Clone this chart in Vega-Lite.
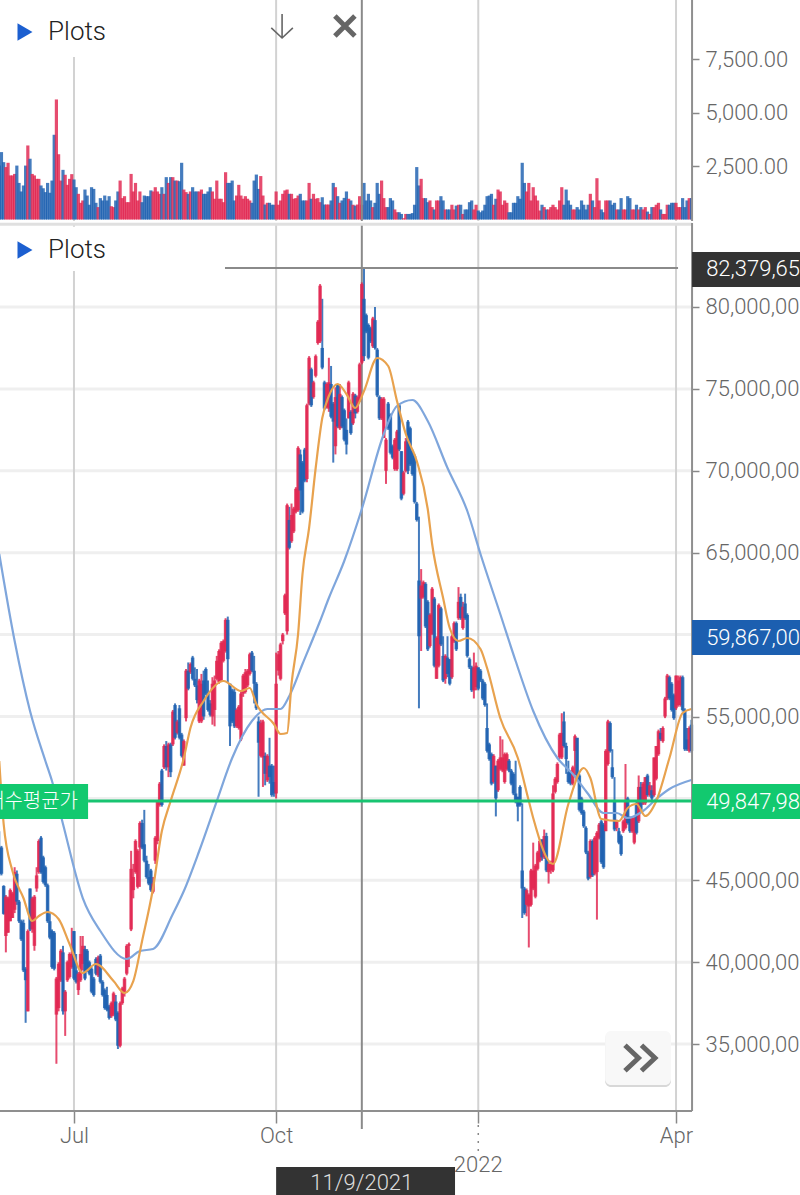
{"$schema":"https://vega.github.io/schema/vega-lite/v6.json","padding":{"left":-6,"top":-2,"right":0,"bottom":0},"background":"white","spacing":0,"config":{"view":{"stroke":null},"font":"Roboto","concat":{"spacing":0}},
"datasets":{
"months":[{"t":"2021-07-01"},{"t":"2021-10-01"},{"t":"2022-01-01"},{"t":"2022-04-01"}],
"levels":[{"p":35000},{"p":40000},{"p":45000},{"p":50000},{"p":55000},{"p":60000},{"p":65000},{"p":70000},{"p":75000},{"p":80000}],
"ma_fast":[{"d":"2021-05-28","m":52283},{"d":"2021-05-30","m":48437},{"d":"2021-06-03","m":45568},{"d":"2021-06-08","m":43919},{"d":"2021-06-12","m":42515},{"d":"2021-06-15","m":42820},{"d":"2021-06-19","m":43065},{"d":"2021-06-24","m":42637},{"d":"2021-06-29","m":41111},{"d":"2021-07-05","m":39341},{"d":"2021-07-11","m":39890},{"d":"2021-07-19","m":38852},{"d":"2021-07-24","m":38120},{"d":"2021-07-28","m":38852},{"d":"2021-08-01","m":41294},{"d":"2021-08-06","m":44530},{"d":"2021-08-10","m":48010},{"d":"2021-08-14","m":49841},{"d":"2021-08-20","m":52466},{"d":"2021-08-23","m":54298},{"d":"2021-08-29","m":55946},{"d":"2021-09-07","m":57167},{"d":"2021-09-15","m":56557},{"d":"2021-09-19","m":56740},{"d":"2021-09-22","m":55763},{"d":"2021-09-30","m":54542},{"d":"2021-10-03","m":53932},{"d":"2021-10-06","m":53993},{"d":"2021-10-08","m":56984},{"d":"2021-10-11","m":60037},{"d":"2021-10-13","m":63700},{"d":"2021-10-16","m":66508},{"d":"2021-10-19","m":70171},{"d":"2021-10-22","m":73223},{"d":"2021-10-25","m":74567},{"d":"2021-10-29","m":75299},{"d":"2021-11-02","m":74689},{"d":"2021-11-06","m":73834},{"d":"2021-11-10","m":74872},{"d":"2021-11-16","m":76886},{"d":"2021-11-21","m":76398},{"d":"2021-11-25","m":74261},{"d":"2021-11-29","m":72247},{"d":"2021-12-04","m":70598},{"d":"2021-12-09","m":67668},{"d":"2021-12-11","m":65531},{"d":"2021-12-16","m":62234},{"d":"2021-12-19","m":60403},{"d":"2021-12-23","m":59609},{"d":"2021-12-27","m":59792},{"d":"2022-01-02","m":59121},{"d":"2022-01-05","m":57961},{"d":"2022-01-11","m":54908},{"d":"2022-01-19","m":52466},{"d":"2022-01-24","m":49841},{"d":"2022-01-26","m":48803},{"d":"2022-02-04","m":45995},{"d":"2022-02-11","m":49658},{"d":"2022-02-18","m":51856},{"d":"2022-02-21","m":51245},{"d":"2022-02-26","m":48742},{"d":"2022-03-06","m":48620},{"d":"2022-03-10","m":49414},{"d":"2022-03-14","m":49658},{"d":"2022-03-18","m":48926},{"d":"2022-03-23","m":49841},{"d":"2022-03-29","m":52466},{"d":"2022-04-04","m":55214},{"d":"2022-04-08","m":55458}],
"ma_slow":[{"d":"2021-05-28","m":64921},{"d":"2021-06-04","m":59609},{"d":"2021-06-11","m":55336},{"d":"2021-06-18","m":52283},{"d":"2021-06-21","m":51062},{"d":"2021-06-26","m":48437},{"d":"2021-07-05","m":43919},{"d":"2021-07-13","m":41905},{"d":"2021-07-25","m":40195},{"d":"2021-07-31","m":40684},{"d":"2021-08-06","m":40806},{"d":"2021-08-15","m":42943},{"d":"2021-08-20","m":44347},{"d":"2021-08-27","m":46789},{"d":"2021-09-04","m":49841},{"d":"2021-09-11","m":52466},{"d":"2021-09-20","m":54725},{"d":"2021-09-27","m":55458},{"d":"2021-10-03","m":55458},{"d":"2021-10-07","m":56252},{"d":"2021-10-13","m":58205},{"d":"2021-10-21","m":60830},{"d":"2021-10-25","m":62234},{"d":"2021-11-01","m":64493},{"d":"2021-11-09","m":67668},{"d":"2021-11-19","m":72247},{"d":"2021-11-25","m":73956},{"d":"2021-12-02","m":74322},{"d":"2021-12-09","m":73040},{"d":"2021-12-18","m":70171},{"d":"2021-12-27","m":67546},{"d":"2022-01-02","m":64921},{"d":"2022-01-11","m":61258},{"d":"2022-01-18","m":58388},{"d":"2022-01-26","m":55336},{"d":"2022-02-06","m":52466},{"d":"2022-02-13","m":51490},{"d":"2022-02-20","m":50269},{"d":"2022-02-27","m":49109},{"d":"2022-03-05","m":49109},{"d":"2022-03-10","m":48803},{"d":"2022-03-17","m":49231},{"d":"2022-03-23","m":49963},{"d":"2022-03-29","m":50574},{"d":"2022-04-08","m":51123}],
"bars":[
{"d":"2021-05-28","o":47000,"h":48000,"l":45300,"c":45400,"v":2520},{"d":"2021-05-29","o":47000,"h":47100,"l":45300,"c":45400,"v":3150},{"d":"2021-05-30","o":44650,"h":44700,"l":42900,"c":42950,"v":2680},{"d":"2021-05-31","o":41600,"h":44100,"l":40600,"c":44000,"v":2450},
{"d":"2021-06-01","o":41800,"h":44000,"l":41800,"c":43900,"v":2650},{"d":"2021-06-02","o":42500,"h":44500,"l":42500,"c":44400,"v":2060},{"d":"2021-06-03","o":42700,"h":44300,"l":42700,"c":44200,"v":2060},{"d":"2021-06-04","o":43200,"h":45800,"l":43000,"c":45500,"v":2130},{"d":"2021-06-05","o":45400,"h":45600,"l":43500,"c":43700,"v":2520},{"d":"2021-06-06","o":43700,"h":43800,"l":42400,"c":42500,"v":1710},{"d":"2021-06-07","o":42500,"h":42600,"l":41300,"c":41400,"v":1310},{"d":"2021-06-08","o":42400,"h":42600,"l":39400,"c":39500,"v":1590},{"d":"2021-06-09","o":39600,"h":39700,"l":36300,"c":38900,"v":2520},{"d":"2021-06-10","o":37000,"h":42000,"l":37000,"c":41900,"v":3460},
{"d":"2021-06-11","o":44500,"h":44500,"l":41900,"c":42000,"v":2840},{"d":"2021-06-12","o":42000,"h":44000,"l":41800,"c":43900,"v":2130},{"d":"2021-06-13","o":41000,"h":44100,"l":40700,"c":44000,"v":2060},{"d":"2021-06-14","o":44500,"h":45800,"l":44300,"c":45300,"v":1900},{"d":"2021-06-15","o":45500,"h":47500,"l":45400,"c":47400,"v":1900},{"d":"2021-06-16","o":47600,"h":47700,"l":45400,"c":45500,"v":1590},{"d":"2021-06-17","o":46400,"h":46500,"l":44800,"c":44900,"v":1460},{"d":"2021-06-18","o":45800,"h":45900,"l":44600,"c":44700,"v":1280},{"d":"2021-06-19","o":44700,"h":44800,"l":42400,"c":42500,"v":1710},{"d":"2021-06-20","o":42500,"h":43000,"l":41400,"c":41500,"v":1250},
{"d":"2021-06-21","o":41900,"h":42000,"l":39600,"c":39700,"v":1820},{"d":"2021-06-22","o":41800,"h":41900,"l":39500,"c":39600,"v":3960},{"d":"2021-06-23","o":36800,"h":39100,"l":33800,"c":39000,"v":5610},{"d":"2021-06-24","o":37200,"h":40000,"l":37000,"c":39900,"v":3050},{"d":"2021-06-25","o":38900,"h":40800,"l":38800,"c":40700,"v":1820},{"d":"2021-06-26","o":40600,"h":41000,"l":36800,"c":37000,"v":2320},{"d":"2021-06-27","o":37000,"h":38300,"l":35500,"c":38200,"v":2090},{"d":"2021-06-28","o":38900,"h":40100,"l":38800,"c":40000,"v":1620},{"d":"2021-06-29","o":39100,"h":40600,"l":39000,"c":40500,"v":1900},{"d":"2021-06-30","o":39700,"h":42100,"l":39600,"c":40500,"v":2120},
{"d":"2021-07-01","o":41900,"h":41900,"l":38900,"c":39000,"v":1870},{"d":"2021-07-02","o":39500,"h":40500,"l":38700,"c":38800,"v":1510},{"d":"2021-07-03","o":38300,"h":39400,"l":38000,"c":39300,"v":1200},{"d":"2021-07-04","o":38900,"h":41600,"l":38800,"c":40500,"v":780},{"d":"2021-07-05","o":39900,"h":41600,"l":39500,"c":41000,"v":890},{"d":"2021-07-06","o":40800,"h":41000,"l":38900,"c":39000,"v":1400},{"d":"2021-07-07","o":40700,"h":40800,"l":39400,"c":39500,"v":1120},{"d":"2021-07-08","o":40000,"h":40100,"l":39200,"c":39300,"v":690},{"d":"2021-07-09","o":39600,"h":39700,"l":38100,"c":38200,"v":1510},{"d":"2021-07-10","o":39000,"h":39100,"l":37900,"c":38000,"v":1430},
{"d":"2021-07-11","o":40200,"h":40300,"l":39200,"c":39300,"v":780},{"d":"2021-07-12","o":39200,"h":40400,"l":39100,"c":40300,"v":580},{"d":"2021-07-13","o":40400,"h":40500,"l":38700,"c":38800,"v":1000},{"d":"2021-07-14","o":38800,"h":38900,"l":37900,"c":38000,"v":890},{"d":"2021-07-15","o":38300,"h":38400,"l":37100,"c":37200,"v":1120},{"d":"2021-07-16","o":38000,"h":38500,"l":37000,"c":37100,"v":890},{"d":"2021-07-17","o":37300,"h":37400,"l":36500,"c":36600,"v":1090},{"d":"2021-07-18","o":36700,"h":37600,"l":36600,"c":37500,"v":620},{"d":"2021-07-19","o":36800,"h":38200,"l":36700,"c":38100,"v":580},{"d":"2021-07-20","o":37600,"h":38000,"l":36400,"c":36500,"v":890},
{"d":"2021-07-21","o":36900,"h":37000,"l":34700,"c":34900,"v":1310},{"d":"2021-07-22","o":34900,"h":37600,"l":34800,"c":37500,"v":1820},{"d":"2021-07-23","o":37500,"h":38500,"l":37400,"c":38400,"v":1000},{"d":"2021-07-24","o":38100,"h":39100,"l":37900,"c":39000,"v":1090},{"d":"2021-07-25","o":39300,"h":41100,"l":39200,"c":41000,"v":810},{"d":"2021-07-26","o":41000,"h":41200,"l":39700,"c":41100,"v":810},{"d":"2021-07-27","o":42000,"h":46800,"l":41900,"c":45700,"v":2130},{"d":"2021-07-28","o":44400,"h":46000,"l":43900,"c":45200,"v":1310},{"d":"2021-07-29","o":45500,"h":47500,"l":45400,"c":47400,"v":1710},{"d":"2021-07-30","o":44600,"h":46900,"l":44500,"c":46800,"v":890},{"d":"2021-07-31","o":47000,"h":48600,"l":44600,"c":48500,"v":1310},
{"d":"2021-08-01","o":48500,"h":48700,"l":46900,"c":47000,"v":810},{"d":"2021-08-02","o":47200,"h":49300,"l":46100,"c":46200,"v":1120},{"d":"2021-08-03","o":46200,"h":46500,"l":45100,"c":45200,"v":1090},{"d":"2021-08-04","o":45200,"h":46000,"l":44700,"c":44800,"v":1090},{"d":"2021-08-05","o":45600,"h":45700,"l":44300,"c":44400,"v":1360},{"d":"2021-08-06","o":44300,"h":45200,"l":44200,"c":44800,"v":1310},{"d":"2021-08-07","o":46200,"h":47700,"l":46000,"c":47600,"v":1510},{"d":"2021-08-08","o":47400,"h":49900,"l":47200,"c":49800,"v":1310},{"d":"2021-08-09","o":49600,"h":51000,"l":49500,"c":50900,"v":1200},{"d":"2021-08-10","o":51700,"h":51800,"l":49500,"c":49600,"v":1510},
{"d":"2021-08-11","o":51900,"h":53300,"l":51800,"c":53200,"v":1200},{"d":"2021-08-12","o":53200,"h":53500,"l":51700,"c":51900,"v":1980},{"d":"2021-08-13","o":51900,"h":53400,"l":51300,"c":53300,"v":1710},{"d":"2021-08-14","o":53300,"h":53400,"l":51300,"c":51600,"v":1980},{"d":"2021-08-15","o":53300,"h":55400,"l":53200,"c":55300,"v":1980},{"d":"2021-08-16","o":55700,"h":55800,"l":53600,"c":53700,"v":1820},{"d":"2021-08-17","o":54000,"h":54800,"l":53900,"c":54700,"v":1820},{"d":"2021-08-18","o":55500,"h":55700,"l":53600,"c":53700,"v":1790},{"d":"2021-08-19","o":53900,"h":54000,"l":52500,"c":52600,"v":2650},{"d":"2021-08-20","o":52000,"h":53600,"l":52000,"c":53500,"v":1400},
{"d":"2021-08-21","o":54900,"h":57900,"l":54700,"c":57800,"v":1280},{"d":"2021-08-22","o":57800,"h":58300,"l":56600,"c":56700,"v":1200},{"d":"2021-08-23","o":57700,"h":58300,"l":57600,"c":58200,"v":1310},{"d":"2021-08-24","o":58600,"h":58700,"l":57200,"c":57300,"v":1510},{"d":"2021-08-25","o":57300,"h":58000,"l":56800,"c":56900,"v":1310},{"d":"2021-08-26","o":56900,"h":57900,"l":55800,"c":56000,"v":1310},{"d":"2021-08-27","o":54700,"h":57300,"l":54600,"c":57200,"v":1310},{"d":"2021-08-28","o":54700,"h":57600,"l":54600,"c":57000,"v":1400},{"d":"2021-08-29","o":57200,"h":57800,"l":54800,"c":55000,"v":1200},{"d":"2021-08-30","o":57900,"h":58000,"l":56300,"c":56400,"v":1200},{"d":"2021-08-31","o":56400,"h":57200,"l":55300,"c":55400,"v":1310},
{"d":"2021-09-01","o":55800,"h":56000,"l":55000,"c":55100,"v":1510},{"d":"2021-09-02","o":55000,"h":57400,"l":54500,"c":57000,"v":1310},{"d":"2021-09-03","o":55400,"h":57500,"l":54400,"c":57200,"v":970},{"d":"2021-09-04","o":57300,"h":58700,"l":57200,"c":58400,"v":1820},{"d":"2021-09-05","o":57100,"h":59100,"l":57000,"c":59000,"v":970},{"d":"2021-09-06","o":57200,"h":59600,"l":57100,"c":59500,"v":970},{"d":"2021-09-07","o":58400,"h":59700,"l":58300,"c":59600,"v":810},{"d":"2021-09-08","o":59000,"h":61000,"l":58900,"c":60900,"v":2210},{"d":"2021-09-09","o":60900,"h":61100,"l":57100,"c":58500,"v":1710},{"d":"2021-09-10","o":57000,"h":57000,"l":53200,"c":54400,"v":1710},
{"d":"2021-09-11","o":56600,"h":56700,"l":54600,"c":54700,"v":1820},{"d":"2021-09-12","o":56500,"h":56700,"l":54300,"c":54400,"v":890},{"d":"2021-09-13","o":54400,"h":55500,"l":54300,"c":55400,"v":1120},{"d":"2021-09-14","o":54300,"h":55700,"l":54200,"c":55600,"v":1620},{"d":"2021-09-15","o":53600,"h":56500,"l":53500,"c":56400,"v":1120},{"d":"2021-09-16","o":56400,"h":57600,"l":56200,"c":57500,"v":970},{"d":"2021-09-17","o":56500,"h":57900,"l":56400,"c":57700,"v":1090},{"d":"2021-09-18","o":56900,"h":57900,"l":56800,"c":57800,"v":970},{"d":"2021-09-19","o":57600,"h":58900,"l":57500,"c":58800,"v":890},{"d":"2021-09-20","o":58900,"h":59000,"l":57700,"c":57800,"v":780},
{"d":"2021-09-21","o":57800,"h":58700,"l":55800,"c":57000,"v":1820},{"d":"2021-09-22","o":57000,"h":57100,"l":55400,"c":55500,"v":2100},{"d":"2021-09-23","o":54700,"h":55000,"l":50100,"c":53400,"v":1430},{"d":"2021-09-24","o":52600,"h":54800,"l":52500,"c":54600,"v":2030},{"d":"2021-09-25","o":52500,"h":54800,"l":50700,"c":54700,"v":1120},{"d":"2021-09-26","o":52600,"h":52800,"l":50800,"c":51500,"v":700},{"d":"2021-09-27","o":51100,"h":52700,"l":51000,"c":52600,"v":780},{"d":"2021-09-28","o":52000,"h":53700,"l":50900,"c":51300,"v":780},{"d":"2021-09-29","o":52000,"h":52100,"l":50100,"c":50200,"v":690},{"d":"2021-09-30","o":51000,"h":52000,"l":50100,"c":50300,"v":690},
{"d":"2021-10-01","o":50300,"h":58900,"l":50000,"c":57000,"v":1310},{"d":"2021-10-02","o":57800,"h":59000,"l":57500,"c":58800,"v":690},{"d":"2021-10-03","o":57300,"h":59500,"l":57200,"c":59400,"v":890},{"d":"2021-10-04","o":59600,"h":60100,"l":59400,"c":60000,"v":1200},{"d":"2021-10-05","o":61300,"h":62500,"l":61200,"c":62400,"v":1360},{"d":"2021-10-06","o":60200,"h":68000,"l":60000,"c":67900,"v":1400},{"d":"2021-10-07","o":67000,"h":67800,"l":65200,"c":65300,"v":1200},{"d":"2021-10-08","o":65700,"h":68000,"l":65600,"c":67300,"v":1200},{"d":"2021-10-09","o":66300,"h":67800,"l":66200,"c":67700,"v":970},{"d":"2021-10-10","o":67500,"h":69000,"l":67400,"c":68900,"v":1000},
{"d":"2021-10-11","o":67600,"h":71500,"l":67500,"c":71400,"v":1120},{"d":"2021-10-12","o":71000,"h":71300,"l":67300,"c":68800,"v":1200},{"d":"2021-10-13","o":70500,"h":70600,"l":67400,"c":67500,"v":890},{"d":"2021-10-14","o":71300,"h":71400,"l":69300,"c":69400,"v":890},{"d":"2021-10-15","o":69500,"h":74100,"l":69300,"c":74000,"v":890},{"d":"2021-10-16","o":74100,"h":77000,"l":74000,"c":76900,"v":1710},{"d":"2021-10-17","o":76200,"h":76300,"l":73900,"c":74000,"v":970},{"d":"2021-10-18","o":74500,"h":75500,"l":74400,"c":75400,"v":1200},{"d":"2021-10-19","o":75800,"h":77100,"l":75700,"c":77000,"v":970},{"d":"2021-10-20","o":77800,"h":79200,"l":77700,"c":79100,"v":1000},
{"d":"2021-10-21","o":77900,"h":81400,"l":77800,"c":81300,"v":810},{"d":"2021-10-22","o":77500,"h":80500,"l":76200,"c":76300,"v":1040},{"d":"2021-10-23","o":75400,"h":75500,"l":73700,"c":73800,"v":700},{"d":"2021-10-24","o":73900,"h":75400,"l":73800,"c":75300,"v":700},{"d":"2021-10-25","o":73800,"h":76900,"l":73600,"c":75400,"v":700},{"d":"2021-10-26","o":75300,"h":76400,"l":73200,"c":73300,"v":890},{"d":"2021-10-27","o":74100,"h":74200,"l":70500,"c":73000,"v":1710},{"d":"2021-10-28","o":71500,"h":75100,"l":71000,"c":74500,"v":1510},{"d":"2021-10-29","o":75300,"h":75300,"l":72600,"c":72700,"v":1090},{"d":"2021-10-30","o":72600,"h":75300,"l":72500,"c":74700,"v":780},{"d":"2021-10-31","o":74500,"h":74600,"l":72600,"c":72700,"v":890},
{"d":"2021-11-01","o":73700,"h":73800,"l":71800,"c":71900,"v":1010},{"d":"2021-11-02","o":72500,"h":73200,"l":71000,"c":71600,"v":1310},{"d":"2021-11-03","o":73200,"h":75500,"l":73200,"c":75400,"v":970},{"d":"2021-11-04","o":73600,"h":73700,"l":72200,"c":72300,"v":890},{"d":"2021-11-05","o":72900,"h":74800,"l":72800,"c":74700,"v":690},{"d":"2021-11-06","o":74600,"h":74700,"l":73200,"c":73500,"v":650},{"d":"2021-11-07","o":73600,"h":74600,"l":73500,"c":74500,"v":700},{"d":"2021-11-08","o":74300,"h":76600,"l":74200,"c":76500,"v":1090},{"d":"2021-11-09","o":76600,"h":81500,"l":76500,"c":81400,"v":690},{"d":"2021-11-10","o":80500,"h":82380,"l":76700,"c":77000,"v":1710},
{"d":"2021-11-11","o":79500,"h":79600,"l":78400,"c":78500,"v":890},{"d":"2021-11-12","o":78900,"h":79000,"l":76800,"c":76900,"v":1200},{"d":"2021-11-13","o":78700,"h":78800,"l":77800,"c":77900,"v":890},{"d":"2021-11-14","o":77600,"h":79400,"l":77500,"c":79300,"v":580},{"d":"2021-11-15","o":79200,"h":80000,"l":77400,"c":77500,"v":780},{"d":"2021-11-16","o":77400,"h":77500,"l":74500,"c":74600,"v":1710},{"d":"2021-11-17","o":74500,"h":74600,"l":73100,"c":73200,"v":1200},{"d":"2021-11-18","o":73200,"h":74500,"l":73100,"c":74400,"v":1820},{"d":"2021-11-19","o":72000,"h":74500,"l":72000,"c":74400,"v":1000},{"d":"2021-11-20","o":70000,"h":72000,"l":69200,"c":71900,"v":580},
{"d":"2021-11-21","o":74100,"h":74200,"l":72500,"c":72600,"v":580},{"d":"2021-11-22","o":73400,"h":73500,"l":71000,"c":71100,"v":1000},{"d":"2021-11-23","o":71500,"h":71600,"l":70700,"c":70800,"v":890},{"d":"2021-11-24","o":70100,"h":72000,"l":70000,"c":71900,"v":470},{"d":"2021-11-25","o":70100,"h":72500,"l":70000,"c":72400,"v":340},{"d":"2021-11-26","o":74000,"h":74100,"l":71200,"c":71300,"v":340},{"d":"2021-11-27","o":71200,"h":71200,"l":68200,"c":68300,"v":260},{"d":"2021-11-28","o":68600,"h":70000,"l":68500,"c":69900,"v":60},{"d":"2021-11-29","o":70000,"h":72000,"l":69900,"c":71800,"v":260},{"d":"2021-11-30","o":73000,"h":73100,"l":69800,"c":70000,"v":260},
{"d":"2021-12-01","o":72600,"h":72700,"l":70300,"c":70400,"v":260},{"d":"2021-12-02","o":71200,"h":71300,"l":69700,"c":69800,"v":300},{"d":"2021-12-03","o":70900,"h":71000,"l":68000,"c":68100,"v":690},{"d":"2021-12-04","o":68000,"h":68100,"l":66900,"c":67000,"v":2450},{"d":"2021-12-05","o":63300,"h":67200,"l":55500,"c":59900,"v":1590},{"d":"2021-12-06","o":62200,"h":64000,"l":59000,"c":63000,"v":1900},{"d":"2021-12-07","o":62300,"h":63300,"l":62200,"c":63200,"v":1000},{"d":"2021-12-08","o":63100,"h":63200,"l":60400,"c":60500,"v":1000},{"d":"2021-12-09","o":62000,"h":62100,"l":59000,"c":59100,"v":810},{"d":"2021-12-10","o":59300,"h":61300,"l":59200,"c":61200,"v":890},
{"d":"2021-12-11","o":60000,"h":62900,"l":60000,"c":62800,"v":580},{"d":"2021-12-12","o":62200,"h":62300,"l":58000,"c":58100,"v":470},{"d":"2021-12-13","o":57300,"h":59900,"l":57300,"c":59800,"v":890},{"d":"2021-12-14","o":58100,"h":61900,"l":58000,"c":61800,"v":890},{"d":"2021-12-15","o":61600,"h":61700,"l":59300,"c":59400,"v":1090},{"d":"2021-12-16","o":58700,"h":59900,"l":57100,"c":57200,"v":890},{"d":"2021-12-17","o":57300,"h":58800,"l":57000,"c":58700,"v":470},{"d":"2021-12-18","o":58600,"h":59900,"l":57400,"c":57600,"v":470},{"d":"2021-12-19","o":58500,"h":58500,"l":56900,"c":57000,"v":470},{"d":"2021-12-20","o":57400,"h":60000,"l":57300,"c":59900,"v":690},
{"d":"2021-12-21","o":59600,"h":60800,"l":59500,"c":60700,"v":470},{"d":"2021-12-22","o":60700,"h":60800,"l":59000,"c":59100,"v":650},{"d":"2021-12-23","o":61000,"h":62900,"l":60900,"c":62000,"v":690},{"d":"2021-12-24","o":62300,"h":62500,"l":60900,"c":61000,"v":690},{"d":"2021-12-25","o":60400,"h":62000,"l":60300,"c":61700,"v":260},{"d":"2021-12-26","o":61900,"h":62500,"l":60900,"c":61000,"v":470},{"d":"2021-12-27","o":61200,"h":61300,"l":58600,"c":58700,"v":470},{"d":"2021-12-28","o":58500,"h":58600,"l":57900,"c":58000,"v":810},{"d":"2021-12-29","o":58000,"h":58100,"l":56500,"c":56600,"v":890},{"d":"2021-12-30","o":56600,"h":58900,"l":56100,"c":58000,"v":470},{"d":"2021-12-31","o":56800,"h":58300,"l":56600,"c":58100,"v":690},
{"d":"2022-01-01","o":58000,"h":58000,"l":56600,"c":56700,"v":420},{"d":"2022-01-02","o":57800,"h":57900,"l":57100,"c":57200,"v":340},{"d":"2022-01-03","o":57200,"h":57300,"l":56000,"c":56100,"v":420},{"d":"2022-01-04","o":57000,"h":57100,"l":55600,"c":55700,"v":690},{"d":"2022-01-05","o":54300,"h":55800,"l":52800,"c":52900,"v":1090},{"d":"2022-01-06","o":53300,"h":53400,"l":52300,"c":52400,"v":1120},{"d":"2022-01-07","o":52700,"h":52800,"l":50800,"c":50900,"v":1200},{"d":"2022-01-08","o":51000,"h":52700,"l":50900,"c":52600,"v":690},{"d":"2022-01-09","o":52000,"h":52000,"l":48900,"c":50000,"v":970},{"d":"2022-01-10","o":50500,"h":52400,"l":50400,"c":52300,"v":1400},
{"d":"2022-01-11","o":51800,"h":53800,"l":51700,"c":52500,"v":1310},{"d":"2022-01-12","o":51700,"h":53600,"l":51600,"c":52500,"v":690},{"d":"2022-01-13","o":51000,"h":52800,"l":50900,"c":52700,"v":890},{"d":"2022-01-14","o":51800,"h":52800,"l":51700,"c":52700,"v":780},{"d":"2022-01-15","o":52300,"h":52400,"l":51600,"c":51700,"v":340},{"d":"2022-01-16","o":51700,"h":51800,"l":50800,"c":50900,"v":340},{"d":"2022-01-17","o":51500,"h":51600,"l":50200,"c":50300,"v":780},{"d":"2022-01-18","o":50300,"h":52300,"l":49700,"c":49800,"v":780},{"d":"2022-01-19","o":50100,"h":50100,"l":48600,"c":49500,"v":1090},{"d":"2022-01-20","o":50700,"h":50800,"l":49500,"c":49600,"v":970},
{"d":"2022-01-21","o":45600,"h":49700,"l":42700,"c":44500,"v":2650},{"d":"2022-01-22","o":44500,"h":44600,"l":42900,"c":43000,"v":1710},{"d":"2022-01-23","o":43500,"h":44500,"l":42800,"c":44400,"v":1310},{"d":"2022-01-24","o":43400,"h":44200,"l":40900,"c":44100,"v":1710},{"d":"2022-01-25","o":43500,"h":45700,"l":43400,"c":45600,"v":890},{"d":"2022-01-26","o":44500,"h":47300,"l":44400,"c":45600,"v":1510},{"d":"2022-01-27","o":44000,"h":46000,"l":43900,"c":45900,"v":1120},{"d":"2022-01-28","o":45700,"h":46800,"l":45600,"c":46700,"v":890},{"d":"2022-01-29","o":46200,"h":47500,"l":46100,"c":47400,"v":420},{"d":"2022-01-30","o":47500,"h":47500,"l":46200,"c":46400,"v":690},{"d":"2022-01-31","o":46400,"h":48100,"l":46300,"c":47700,"v":580},
{"d":"2022-02-01","o":47700,"h":47900,"l":45500,"c":45600,"v":470},{"d":"2022-02-02","o":45500,"h":46200,"l":44800,"c":46000,"v":470},{"d":"2022-02-03","o":45600,"h":46200,"l":45400,"c":46000,"v":580},{"d":"2022-02-04","o":45600,"h":50800,"l":45500,"c":50300,"v":690},{"d":"2022-02-05","o":50400,"h":51300,"l":50300,"c":51200,"v":580},{"d":"2022-02-06","o":51000,"h":52200,"l":50900,"c":52100,"v":470},{"d":"2022-02-07","o":52500,"h":54000,"l":52400,"c":53900,"v":890},{"d":"2022-02-08","o":52500,"h":55200,"l":52400,"c":54000,"v":1510},{"d":"2022-02-09","o":54700,"h":55300,"l":53100,"c":53200,"v":690},{"d":"2022-02-10","o":53200,"h":53400,"l":51500,"c":52400,"v":1400},
{"d":"2022-02-11","o":51600,"h":52300,"l":50900,"c":51000,"v":890},{"d":"2022-02-12","o":51600,"h":51700,"l":50800,"c":50900,"v":690},{"d":"2022-02-13","o":50900,"h":52000,"l":50800,"c":51900,"v":470},{"d":"2022-02-14","o":52900,"h":53900,"l":51400,"c":53800,"v":470},{"d":"2022-02-15","o":53700,"h":53700,"l":51300,"c":51400,"v":580},{"d":"2022-02-16","o":51400,"h":51500,"l":49200,"c":49300,"v":470},{"d":"2022-02-17","o":50000,"h":50100,"l":49000,"c":49100,"v":890},{"d":"2022-02-18","o":49200,"h":49300,"l":48200,"c":48300,"v":690},{"d":"2022-02-19","o":48200,"h":48300,"l":46600,"c":46700,"v":470},{"d":"2022-02-20","o":46700,"h":46800,"l":45000,"c":45100,"v":690},
{"d":"2022-02-21","o":45200,"h":47500,"l":45100,"c":47400,"v":1200},{"d":"2022-02-22","o":47400,"h":47500,"l":45200,"c":45300,"v":890},{"d":"2022-02-23","o":45400,"h":47700,"l":45300,"c":47600,"v":580},{"d":"2022-02-24","o":45500,"h":48000,"l":42600,"c":47900,"v":1930},{"d":"2022-02-25","o":47600,"h":48500,"l":47500,"c":48400,"v":890},{"d":"2022-02-26","o":48600,"h":48700,"l":46000,"c":46100,"v":470},{"d":"2022-02-27","o":48400,"h":48500,"l":45700,"c":45800,"v":340},{"d":"2022-02-28","o":48000,"h":53000,"l":48000,"c":52900,"v":890},
{"d":"2022-03-01","o":52100,"h":54800,"l":52000,"c":54700,"v":890},{"d":"2022-03-02","o":54600,"h":54700,"l":52800,"c":52900,"v":890},{"d":"2022-03-03","o":51900,"h":53000,"l":51200,"c":51300,"v":690},{"d":"2022-03-04","o":49800,"h":51300,"l":48000,"c":48100,"v":780},{"d":"2022-03-05","o":48200,"h":48700,"l":48000,"c":48600,"v":470},{"d":"2022-03-06","o":48000,"h":48200,"l":47200,"c":47300,"v":470},{"d":"2022-03-07","o":47700,"h":47800,"l":46500,"c":46600,"v":1000},{"d":"2022-03-08","o":48000,"h":48700,"l":47900,"c":48600,"v":470},{"d":"2022-03-09","o":48200,"h":52100,"l":48100,"c":49800,"v":470},{"d":"2022-03-10","o":50000,"h":50100,"l":48400,"c":48500,"v":1090},
{"d":"2022-03-11","o":48800,"h":48900,"l":47900,"c":48000,"v":1000},{"d":"2022-03-12","o":48000,"h":48900,"l":47900,"c":48800,"v":470},{"d":"2022-03-13","o":47300,"h":48900,"l":47200,"c":48800,"v":470},{"d":"2022-03-14","o":49700,"h":49800,"l":47800,"c":47900,"v":690},{"d":"2022-03-15","o":48600,"h":51400,"l":48500,"c":50700,"v":470},{"d":"2022-03-16","o":50700,"h":51000,"l":49200,"c":49300,"v":580},{"d":"2022-03-17","o":49700,"h":51000,"l":49600,"c":50900,"v":470},{"d":"2022-03-18","o":49700,"h":51300,"l":49600,"c":51300,"v":580},{"d":"2022-03-19","o":51400,"h":51500,"l":50100,"c":50200,"v":370},{"d":"2022-03-20","o":50200,"h":51000,"l":50100,"c":50800,"v":260},
{"d":"2022-03-21","o":50500,"h":50800,"l":49900,"c":50000,"v":580},{"d":"2022-03-22","o":50200,"h":52500,"l":50100,"c":52500,"v":580},{"d":"2022-03-23","o":51200,"h":53200,"l":51100,"c":53200,"v":690},{"d":"2022-03-24","o":52700,"h":54200,"l":52600,"c":54100,"v":780},{"d":"2022-03-25","o":54000,"h":54300,"l":53500,"c":53600,"v":470},{"d":"2022-03-26","o":53500,"h":54400,"l":53400,"c":54300,"v":260},{"d":"2022-03-27","o":55000,"h":56200,"l":54900,"c":56100,"v":260},{"d":"2022-03-28","o":56100,"h":57600,"l":56000,"c":57500,"v":690},{"d":"2022-03-29","o":57400,"h":57500,"l":56000,"c":56100,"v":690},{"d":"2022-03-30","o":57000,"h":57100,"l":55300,"c":55400,"v":780},{"d":"2022-03-31","o":56300,"h":56400,"l":54800,"c":54900,"v":780},
{"d":"2022-04-01","o":55500,"h":57500,"l":55400,"c":57500,"v":780},{"d":"2022-04-02","o":55700,"h":57500,"l":55600,"c":57200,"v":580},{"d":"2022-04-03","o":55700,"h":57500,"l":55600,"c":57400,"v":580},{"d":"2022-04-04","o":57400,"h":57500,"l":55300,"c":55400,"v":1000},{"d":"2022-04-05","o":55400,"h":55500,"l":52900,"c":53000,"v":580},{"d":"2022-04-06","o":53600,"h":54300,"l":52900,"c":53000,"v":890},{"d":"2022-04-07","o":52900,"h":54400,"l":52800,"c":54300,"v":1000},{"d":"2022-04-08","o":54500,"h":54800,"l":52800,"c":52900,"v":1000}
]},
"vconcat":[
{"width":800,"height":222,"resolve":{"axis":{"x":"independent","y":"independent"}},"layer":[
{"data":{"name":"months"},"mark":{"type":"rule","color":"#d2d2d2","strokeWidth":2},"encoding":{"x":{"field":"t","type":"temporal","axis":null,"scale":{"type":"utc","nice":false,"domain":[{"utc":true,"year":2021,"month":5,"date":28,"hours":8},{"utc":true,"year":2022,"month":5,"date":27,"hours":10}]}},"y":{"datum":10304,"type":"quantitative","axis":null,"scale":{"nice":false,"zero":false,"domain":[-70,10304]}},"y2":{"datum":-70}}},
{"data":{"values":[{}]},"mark":{"type":"rect","color":"#ffffff"},"encoding":{"x":{"datum":{"utc":true,"year":2021,"month":5,"date":28,"hours":8},"type":"temporal","axis":null},"x2":{"datum":{"utc":true,"year":2021,"month":7,"date":2,"hours":20}},"y":{"datum":10304,"type":"quantitative","axis":null},"y2":{"datum":7594}}},
{"data":{"name":"bars"},"mark":{"type":"rule","strokeWidth":3.2,"opacity":0.82},"encoding":{"x":{"field":"d","type":"temporal","axis":null},"y":{"field":"v","type":"quantitative","axis":{"orient":"right","offset":-108,"values":[2500,5000,7500],"format":",.2f","title":null,"domain":false,"grid":false,"tickColor":"#888888","tickSize":7,"tickWidth":1.5,"labelFontSize":22,"labelFontWeight":300,"labelColor":"#666666","labelPadding":6,"labelFont":"Roboto"}},"y2":{"datum":0},"color":{"condition":{"test":"datum.c>=datum.o","value":"#e0254f"},"value":"#1c5fb0"}}},
{"data":{"values":[{}]},"mark":{"type":"rule","color":"#8a8a8a","strokeWidth":2},"encoding":{"x":{"datum":{"utc":true,"year":2021,"month":11,"date":9},"type":"temporal","axis":null},"y":{"datum":10304,"type":"quantitative","axis":null},"y2":{"datum":-70}}},
{"data":{"values":[{}]},"mark":{"type":"rule","color":"#8f8f8f","strokeWidth":2},"encoding":{"x":{"datum":{"utc":true,"year":2022,"month":4,"date":8,"hours":7},"type":"temporal","axis":null},"y":{"datum":10304,"type":"quantitative","axis":null},"y2":{"datum":-70}}},
{"data":{"values":[{}]},"mark":{"type":"point","shape":"triangle-right","filled":true,"color":"#1c5fd0","size":300,"opacity":1},"encoding":{"x":{"datum":{"utc":true,"year":2021,"month":6,"date":8,"hours":17},"type":"temporal","axis":null},"y":{"datum":8762,"type":"quantitative","axis":null}}},
{"data":{"values":[{}]},"mark":{"type":"text","text":"Plots","align":"left","baseline":"middle","fontSize":26,"fontWeight":300,"color":"#222222"},"encoding":{"x":{"datum":{"utc":true,"year":2021,"month":6,"date":19,"hours":5},"type":"temporal","axis":null},"y":{"datum":8762,"type":"quantitative","axis":null}}},
{"data":{"values":[{}]},"mark":{"type":"point","shape":"M0,-1L0,1M-0.9,0.15L0,1L0.9,0.15","filled":false,"fill":null,"stroke":"#666666","strokeWidth":1.6,"size":576,"opacity":1},"encoding":{"x":{"datum":{"utc":true,"year":2021,"month":10,"date":3,"hours":17},"type":"temporal","axis":null},"y":{"datum":9042,"type":"quantitative","axis":null}}},
{"data":{"values":[{}]},"mark":{"type":"point","shape":"M-1,-1L1,1M-1,1L1,-1","filled":false,"fill":null,"stroke":"#666666","strokeWidth":5,"size":400,"opacity":1},"encoding":{"x":{"datum":{"utc":true,"year":2021,"month":11,"date":1,"hours":7},"type":"temporal","axis":null},"y":{"datum":9042,"type":"quantitative","axis":null}}}
]},
{"width":800,"height":973,"resolve":{"axis":{"x":"independent","y":"independent"}},"layer":[
{"data":{"name":"levels"},"mark":{"type":"rule","color":"#efefef","strokeWidth":3},"encoding":{"y":{"field":"p","type":"quantitative","scale":{"nice":false,"zero":false,"domain":[25727,85128]},"axis":{"orient":"right","offset":-108,"values":[35000,40000,45000,55000,65000,70000,75000,80000],"labelExpr":"format(datum.value,',')+',00'","title":null,"domain":false,"grid":false,"tickColor":"#888888","tickSize":7,"tickWidth":1.5,"labelFontSize":22,"labelFontWeight":300,"labelColor":"#666666","labelPadding":6,"labelFont":"Roboto"}},"x":{"datum":{"utc":true,"year":2021,"month":5,"date":28,"hours":8},"type":"temporal","axis":null,"scale":{"type":"utc","nice":false,"domain":[{"utc":true,"year":2021,"month":5,"date":28,"hours":8},{"utc":true,"year":2022,"month":5,"date":27,"hours":10}]}},"x2":{"datum":{"utc":true,"year":2022,"month":4,"date":8,"hours":7}}}},
{"data":{"name":"months"},"mark":{"type":"rule","color":"#d2d2d2","strokeWidth":2},"encoding":{"x":{"field":"t","type":"temporal","axis":{"orient":"bottom","offset":-85,"values":[{"utc":true,"year":2021,"month":7,"date":1},{"utc":true,"year":2021,"month":10,"date":1},{"utc":true,"year":2022,"month":1,"date":1},{"utc":true,"year":2022,"month":4,"date":1}],"labelExpr":"utcmonth(datum.value)==0?'':utcFormat(datum.value,'%b')","title":null,"domain":false,"grid":false,"tickColor":"#888888","tickSize":12,"tickWidth":1.5,"labelFontSize":22,"labelFontWeight":300,"labelColor":"#666666","labelPadding":2,"labelFont":"Roboto"}},"y":{"datum":85128,"type":"quantitative","axis":null},"y2":{"datum":30916}}},
{"data":{"values":[{}]},"mark":{"type":"text","text":"2022","align":"center","baseline":"middle","fontSize":22,"fontWeight":300,"color":"#666666"},"encoding":{"x":{"datum":{"utc":true,"year":2022,"month":1,"date":1},"type":"temporal","axis":null},"y":{"datum":27620,"type":"quantitative","axis":null}}},
{"data":{"values":[{}]},"mark":{"type":"rule","color":"#8a8a8a","strokeWidth":2},"encoding":{"x":{"datum":{"utc":true,"year":2021,"month":11,"date":9},"type":"temporal","axis":null},"y":{"datum":85128,"type":"quantitative","axis":null},"y2":{"datum":29817}}},
{"data":{"values":[{}]},"mark":{"type":"rule","color":"#e0e0e0","strokeWidth":3},"encoding":{"x":{"datum":{"utc":true,"year":2021,"month":5,"date":28,"hours":8},"type":"temporal","axis":null},"x2":{"datum":{"utc":true,"year":2022,"month":4,"date":8,"hours":7}},"y":{"datum":85050,"type":"quantitative","axis":null}}},
{"data":{"name":"bars"},"mark":{"type":"rule","strokeWidth":2,"opacity":0.82},"encoding":{"x":{"field":"d","type":"temporal","axis":null},"y":{"field":"l","type":"quantitative","axis":null},"y2":{"field":"h"},"color":{"condition":{"test":"datum.c>=datum.o","value":"#e0254f"},"value":"#1c5fb0"}}},
{"data":{"name":"bars"},"mark":{"type":"rule","strokeWidth":3.5,"opacity":0.82},"encoding":{"x":{"field":"d","type":"temporal","axis":null},"y":{"field":"o","type":"quantitative","axis":null},"y2":{"field":"c"},"color":{"condition":{"test":"datum.c>=datum.o","value":"#e0254f"},"value":"#1c5fb0"}}},
{"data":{"name":"ma_slow"},"mark":{"type":"line","color":"#7fa6dc","strokeWidth":2.2,"interpolate":"monotone"},"encoding":{"x":{"field":"d","type":"temporal","axis":null},"y":{"field":"m","type":"quantitative","axis":null}}},
{"data":{"name":"ma_fast"},"mark":{"type":"line","color":"#e8a24e","strokeWidth":2.2,"interpolate":"monotone"},"encoding":{"x":{"field":"d","type":"temporal","axis":null},"y":{"field":"m","type":"quantitative","axis":null}}},
{"data":{"values":[{}]},"mark":{"type":"rule","color":"#8a8a8a","strokeWidth":2},"encoding":{"x":{"datum":{"utc":true,"year":2021,"month":9,"date":7,"hours":17},"type":"temporal","axis":null},"x2":{"datum":{"utc":true,"year":2022,"month":4,"date":1,"hours":22}},"y":{"datum":82379.65,"type":"quantitative","axis":null}}},
{"data":{"values":[{}]},"mark":{"type":"rect","color":"#ffffff","cornerRadius":4},"encoding":{"x":{"datum":{"utc":true,"year":2021,"month":5,"date":28,"hours":8},"type":"temporal","axis":null},"x2":{"datum":{"utc":true,"year":2021,"month":9,"date":7,"hours":17}},"y":{"datum":84900,"type":"quantitative","axis":null},"y2":{"datum":82198}}},
{"data":{"values":[{}]},"mark":{"type":"point","shape":"triangle-right","filled":true,"color":"#1c5fd0","size":300,"opacity":1},"encoding":{"x":{"datum":{"utc":true,"year":2021,"month":6,"date":8,"hours":17},"type":"temporal","axis":null},"y":{"datum":83480,"type":"quantitative","axis":null}}},
{"data":{"values":[{}]},"mark":{"type":"text","text":"Plots","align":"left","baseline":"middle","fontSize":26,"fontWeight":300,"color":"#222222"},"encoding":{"x":{"datum":{"utc":true,"year":2021,"month":6,"date":19,"hours":5},"type":"temporal","axis":null},"y":{"datum":83480,"type":"quantitative","axis":null}}},
{"data":{"values":[{}]},"mark":{"type":"rule","color":"#18c471","strokeWidth":3},"encoding":{"x":{"datum":{"utc":true,"year":2021,"month":7,"date":7,"hours":10},"type":"temporal","axis":null},"x2":{"datum":{"utc":true,"year":2022,"month":4,"date":8,"hours":7}},"y":{"datum":49847.98,"type":"quantitative","axis":null}}},
{"data":{"values":[{}]},"mark":{"type":"rect","color":"#12c96f"},"encoding":{"x":{"datum":{"utc":true,"year":2021,"month":5,"date":28,"hours":8},"type":"temporal","axis":null},"x2":{"datum":{"utc":true,"year":2021,"month":7,"date":7,"hours":10}},"y":{"datum":50879,"type":"quantitative","axis":null},"y2":{"datum":48742}}},
{"data":{"values":[{}]},"mark":{"type":"text","text":"매수평균가","clip":true,"align":"right","baseline":"middle","fontSize":20,"font":"Noto Sans CJK KR","fontWeight":300,"color":"#ffffff"},"encoding":{"x":{"datum":{"utc":true,"year":2021,"month":7,"date":2,"hours":20},"type":"temporal","axis":null},"y":{"datum":49810,"type":"quantitative","axis":null}}},
{"data":{"values":[{}]},"mark":{"type":"rule","color":"#8f8f8f","strokeWidth":2},"encoding":{"x":{"datum":{"utc":true,"year":2022,"month":4,"date":8,"hours":7},"type":"temporal","axis":null},"y":{"datum":85128,"type":"quantitative","axis":null},"y2":{"datum":30916}}},
{"data":{"values":[{}]},"mark":{"type":"rule","color":"#8f8f8f","strokeWidth":2},"encoding":{"x":{"datum":{"utc":true,"year":2021,"month":5,"date":28,"hours":8},"type":"temporal","axis":null},"x2":{"datum":{"utc":true,"year":2022,"month":4,"date":8,"hours":7}},"y":{"datum":30916,"type":"quantitative","axis":null}}},
{"data":{"values":[{}]},"mark":{"type":"rule","color":"#888888","strokeWidth":1.5,"strokeDash":[2,6]},"encoding":{"x":{"datum":{"utc":true,"year":2022,"month":1,"date":1},"type":"temporal","axis":null},"y":{"datum":30061,"type":"quantitative","axis":null},"y2":{"datum":28474}}},
{"data":{"values":[{}]},"mark":{"type":"rect","color":"#333333"},"encoding":{"x":{"datum":{"utc":true,"year":2022,"month":4,"date":8,"hours":7},"type":"temporal","axis":null},"x2":{"datum":{"utc":true,"year":2022,"month":5,"date":27,"hours":10}},"y":{"datum":83358,"type":"quantitative","axis":null},"y2":{"datum":81221}}},
{"data":{"values":[{}]},"mark":{"type":"text","text":"82,379,65","align":"left","baseline":"middle","fontSize":22,"fontWeight":300,"color":"#ffffff"},"encoding":{"x":{"datum":{"utc":true,"year":2022,"month":4,"date":14,"hours":17},"type":"temporal","axis":null},"y":{"datum":82300,"type":"quantitative","axis":null}}},
{"data":{"values":[{}]},"mark":{"type":"rect","color":"#1c5fb0"},"encoding":{"x":{"datum":{"utc":true,"year":2022,"month":4,"date":8,"hours":7},"type":"temporal","axis":null},"x2":{"datum":{"utc":true,"year":2022,"month":5,"date":27,"hours":10}},"y":{"datum":60891,"type":"quantitative","axis":null},"y2":{"datum":58755}}},
{"data":{"values":[{}]},"mark":{"type":"text","text":"59,867,00","align":"left","baseline":"middle","fontSize":22,"fontWeight":300,"color":"#ffffff"},"encoding":{"x":{"datum":{"utc":true,"year":2022,"month":4,"date":14,"hours":17},"type":"temporal","axis":null},"y":{"datum":59800,"type":"quantitative","axis":null}}},
{"data":{"values":[{}]},"mark":{"type":"rect","color":"#12c96f"},"encoding":{"x":{"datum":{"utc":true,"year":2022,"month":4,"date":8,"hours":7},"type":"temporal","axis":null},"x2":{"datum":{"utc":true,"year":2022,"month":5,"date":27,"hours":10}},"y":{"datum":50879,"type":"quantitative","axis":null},"y2":{"datum":48742}}},
{"data":{"values":[{}]},"mark":{"type":"text","text":"49,847,98","align":"left","baseline":"middle","fontSize":22,"fontWeight":300,"color":"#ffffff"},"encoding":{"x":{"datum":{"utc":true,"year":2022,"month":4,"date":14,"hours":17},"type":"temporal","axis":null},"y":{"datum":49780,"type":"quantitative","axis":null}}},
{"data":{"values":[{}]},"mark":{"type":"rect","color":"#d8d8d8","cornerRadius":6},"encoding":{"x":{"datum":{"utc":true,"year":2022,"month":2,"date":27,"hours":17},"type":"temporal","axis":null},"x2":{"datum":{"utc":true,"year":2022,"month":3,"date":29,"hours":17}},"y":{"datum":35678,"type":"quantitative","axis":null},"y2":{"datum":32381}}},
{"data":{"values":[{}]},"mark":{"type":"rect","color":"#f8f8f8","cornerRadius":6},"encoding":{"x":{"datum":{"utc":true,"year":2022,"month":2,"date":27,"hours":17},"type":"temporal","axis":null},"x2":{"datum":{"utc":true,"year":2022,"month":3,"date":29,"hours":17}},"y":{"datum":35800,"type":"quantitative","axis":null},"y2":{"datum":32503}}},
{"data":{"values":[{}]},"mark":{"type":"point","shape":"M-1,-0.85L-0.1,0L-1,0.85M0.1,-0.85L1,0L0.1,0.85","filled":false,"fill":null,"stroke":"#666666","strokeWidth":5,"size":900,"opacity":1},"encoding":{"x":{"datum":{"utc":true,"year":2022,"month":3,"date":15,"hours":14},"type":"temporal","axis":null},"y":{"datum":34151,"type":"quantitative","axis":null}}},
{"data":{"values":[{}]},"mark":{"type":"rect","color":"#333333"},"encoding":{"x":{"datum":{"utc":true,"year":2021,"month":10,"date":1},"type":"temporal","axis":null},"x2":{"datum":{"utc":true,"year":2021,"month":12,"date":21,"hours":10}},"y":{"datum":27497,"type":"quantitative","axis":null},"y2":{"datum":25727}}},
{"data":{"values":[{}]},"mark":{"type":"text","text":"11/9/2021","align":"center","baseline":"middle","fontSize":22,"fontWeight":300,"color":"#dddddd"},"encoding":{"x":{"datum":{"utc":true,"year":2021,"month":11,"date":9},"type":"temporal","axis":null},"y":{"datum":26527,"type":"quantitative","axis":null}}}
]}
]}
